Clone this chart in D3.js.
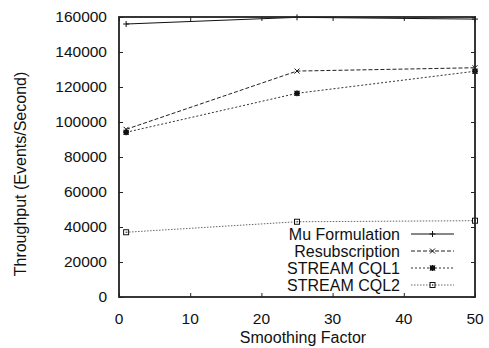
<!DOCTYPE html>
<html><head><meta charset="utf-8">
<script src="https://cdn.jsdelivr.net/npm/d3@7"></script>
<style>body{margin:0;background:#fff}svg{display:block}text{font-family:"Liberation Sans",Arial,sans-serif;fill:#111}</style>
</head><body><svg id="c" width="489" height="348"></svg>
<script>
const xValues = [1, 25, 50];
const seriesNames = ["Mu Formulation", "Resubscription", "STREAM CQL1", "STREAM CQL2"];
const muValues = [156000, 159800, 158800];
const resubValues = [95800, 129100, 131000];
const cql1Values = [94100, 116400, 129000];
const cql2Values = [37000, 43000, 43600];
const xTicks = [0, 10, 20, 30, 40, 50];
const yTicks = [0, 20000, 40000, 60000, 80000, 100000, 120000, 140000, 160000];

const svg = d3.select("#c");
const L = 119, R = 475, T = 17, B = 297;
const FS = 15.5;
const x = d3.scaleLinear().domain([0, 50]).range([L, R]);
const y = d3.scaleLinear().domain([0, 160000]).range([B, T]);

// ticks (inside) on all four sides
const g = svg.append("g");
g.append("g").attr("transform", `translate(0,${B})`).call(d3.axisTop(x).tickValues(xTicks).tickSize(4).tickFormat(""));
g.append("g").attr("transform", `translate(0,${T})`).call(d3.axisBottom(x).tickValues(xTicks).tickSize(4).tickFormat(""));
g.append("g").attr("transform", `translate(${L},0)`).call(d3.axisRight(y).tickValues(yTicks).tickSize(4).tickFormat(""));
g.append("g").attr("transform", `translate(${R},0)`).call(d3.axisLeft(y).tickValues(yTicks).tickSize(4).tickFormat(""));
g.selectAll(".domain").remove();
g.selectAll(".tick line").attr("stroke", "#222").attr("stroke-width", 1);

// tick labels
svg.append("g").selectAll("text").data(yTicks).join("text")
  .attr("x", L - 12).attr("y", d => y(d)).attr("dy", "0.35em")
  .attr("text-anchor", "end").attr("font-size", FS).text(d => d);
svg.append("g").selectAll("text").data(xTicks).join("text")
  .attr("x", d => x(d)).attr("y", B + 27)
  .attr("text-anchor", "middle").attr("font-size", FS).text(d => d);

// axis titles
svg.append("text").attr("x", (L + R) / 2 + 6).attr("y", 343).attr("text-anchor", "middle").attr("font-size", 16).text("Smoothing Factor");
svg.append("text").attr("transform", `translate(26,${174}) rotate(-90)`).attr("text-anchor", "middle").attr("font-size", 16).text("Throughput (Events/Second)");

const series = [
  {name: seriesNames[0], values: muValues, dash: null, color: "#111", marker: "plus"},
  {name: seriesNames[1], values: resubValues, dash: "4,2", color: "#222", marker: "cross"},
  {name: seriesNames[2], values: cql1Values, dash: "2,2", color: "#333", marker: "star"},
  {name: seriesNames[3], values: cql2Values, dash: "1.5,1.5", color: "#666", marker: "square"}
];

function drawMarker(sel, type, cx, cy) {
  const m = sel.append("g").attr("transform", `translate(${cx},${cy})`).attr("stroke", "#111").attr("fill", "none").attr("stroke-width", 1);
  if (type === "plus") {
    m.append("path").attr("d", "M-3,0H3M0,-3V3");
  } else if (type === "cross") {
    m.append("path").attr("d", "M-2.5,-2.5L2.5,2.5M-2.5,2.5L2.5,-2.5");
  } else if (type === "star") {
    m.append("path").attr("d", "M-2.5,-2.5L2.5,2.5M-2.5,2.5L2.5,-2.5M-3,0H3M0,-3V3");
    m.append("rect").attr("x", -2).attr("y", -2).attr("width", 4).attr("height", 4).attr("fill", "#111");
  } else {
    m.append("rect").attr("x", -2.5).attr("y", -2.5).attr("width", 5).attr("height", 5);
    m.append("rect").attr("x", -0.5).attr("y", -0.5).attr("width", 1).attr("height", 1).attr("fill", "#111").attr("stroke", "none");
  }
}

const line = d3.line().x((d, i) => x(xValues[i])).y(d => y(d));
series.slice().reverse().forEach(s => {
  svg.append("path").attr("d", line(s.values)).attr("fill", "none")
    .attr("stroke", s.color).attr("stroke-width", 1)
    .attr("stroke-dasharray", s.dash);
  s.values.forEach((v, i) => drawMarker(svg, s.marker, x(xValues[i]), y(v)));
});

// legend
const legY0 = 234, legDy = 17;
series.forEach((s, i) => {
  const ly = legY0 + i * legDy;
  svg.append("text").attr("x", 400).attr("y", ly).attr("dy", "0.36em").attr("text-anchor", "end").attr("font-size", 16).text(s.name);
  svg.append("line").attr("x1", 411).attr("x2", 454).attr("y1", ly).attr("y2", ly)
    .attr("stroke", s.color).attr("stroke-width", 1).attr("stroke-dasharray", s.dash);
  drawMarker(svg, s.marker, 432.5, ly);
});

// frame
svg.append("rect").attr("x", L).attr("y", T).attr("width", R - L).attr("height", B - T)
  .attr("fill", "none").attr("stroke", "#222").attr("stroke-width", 1.8);
</script></body></html>
